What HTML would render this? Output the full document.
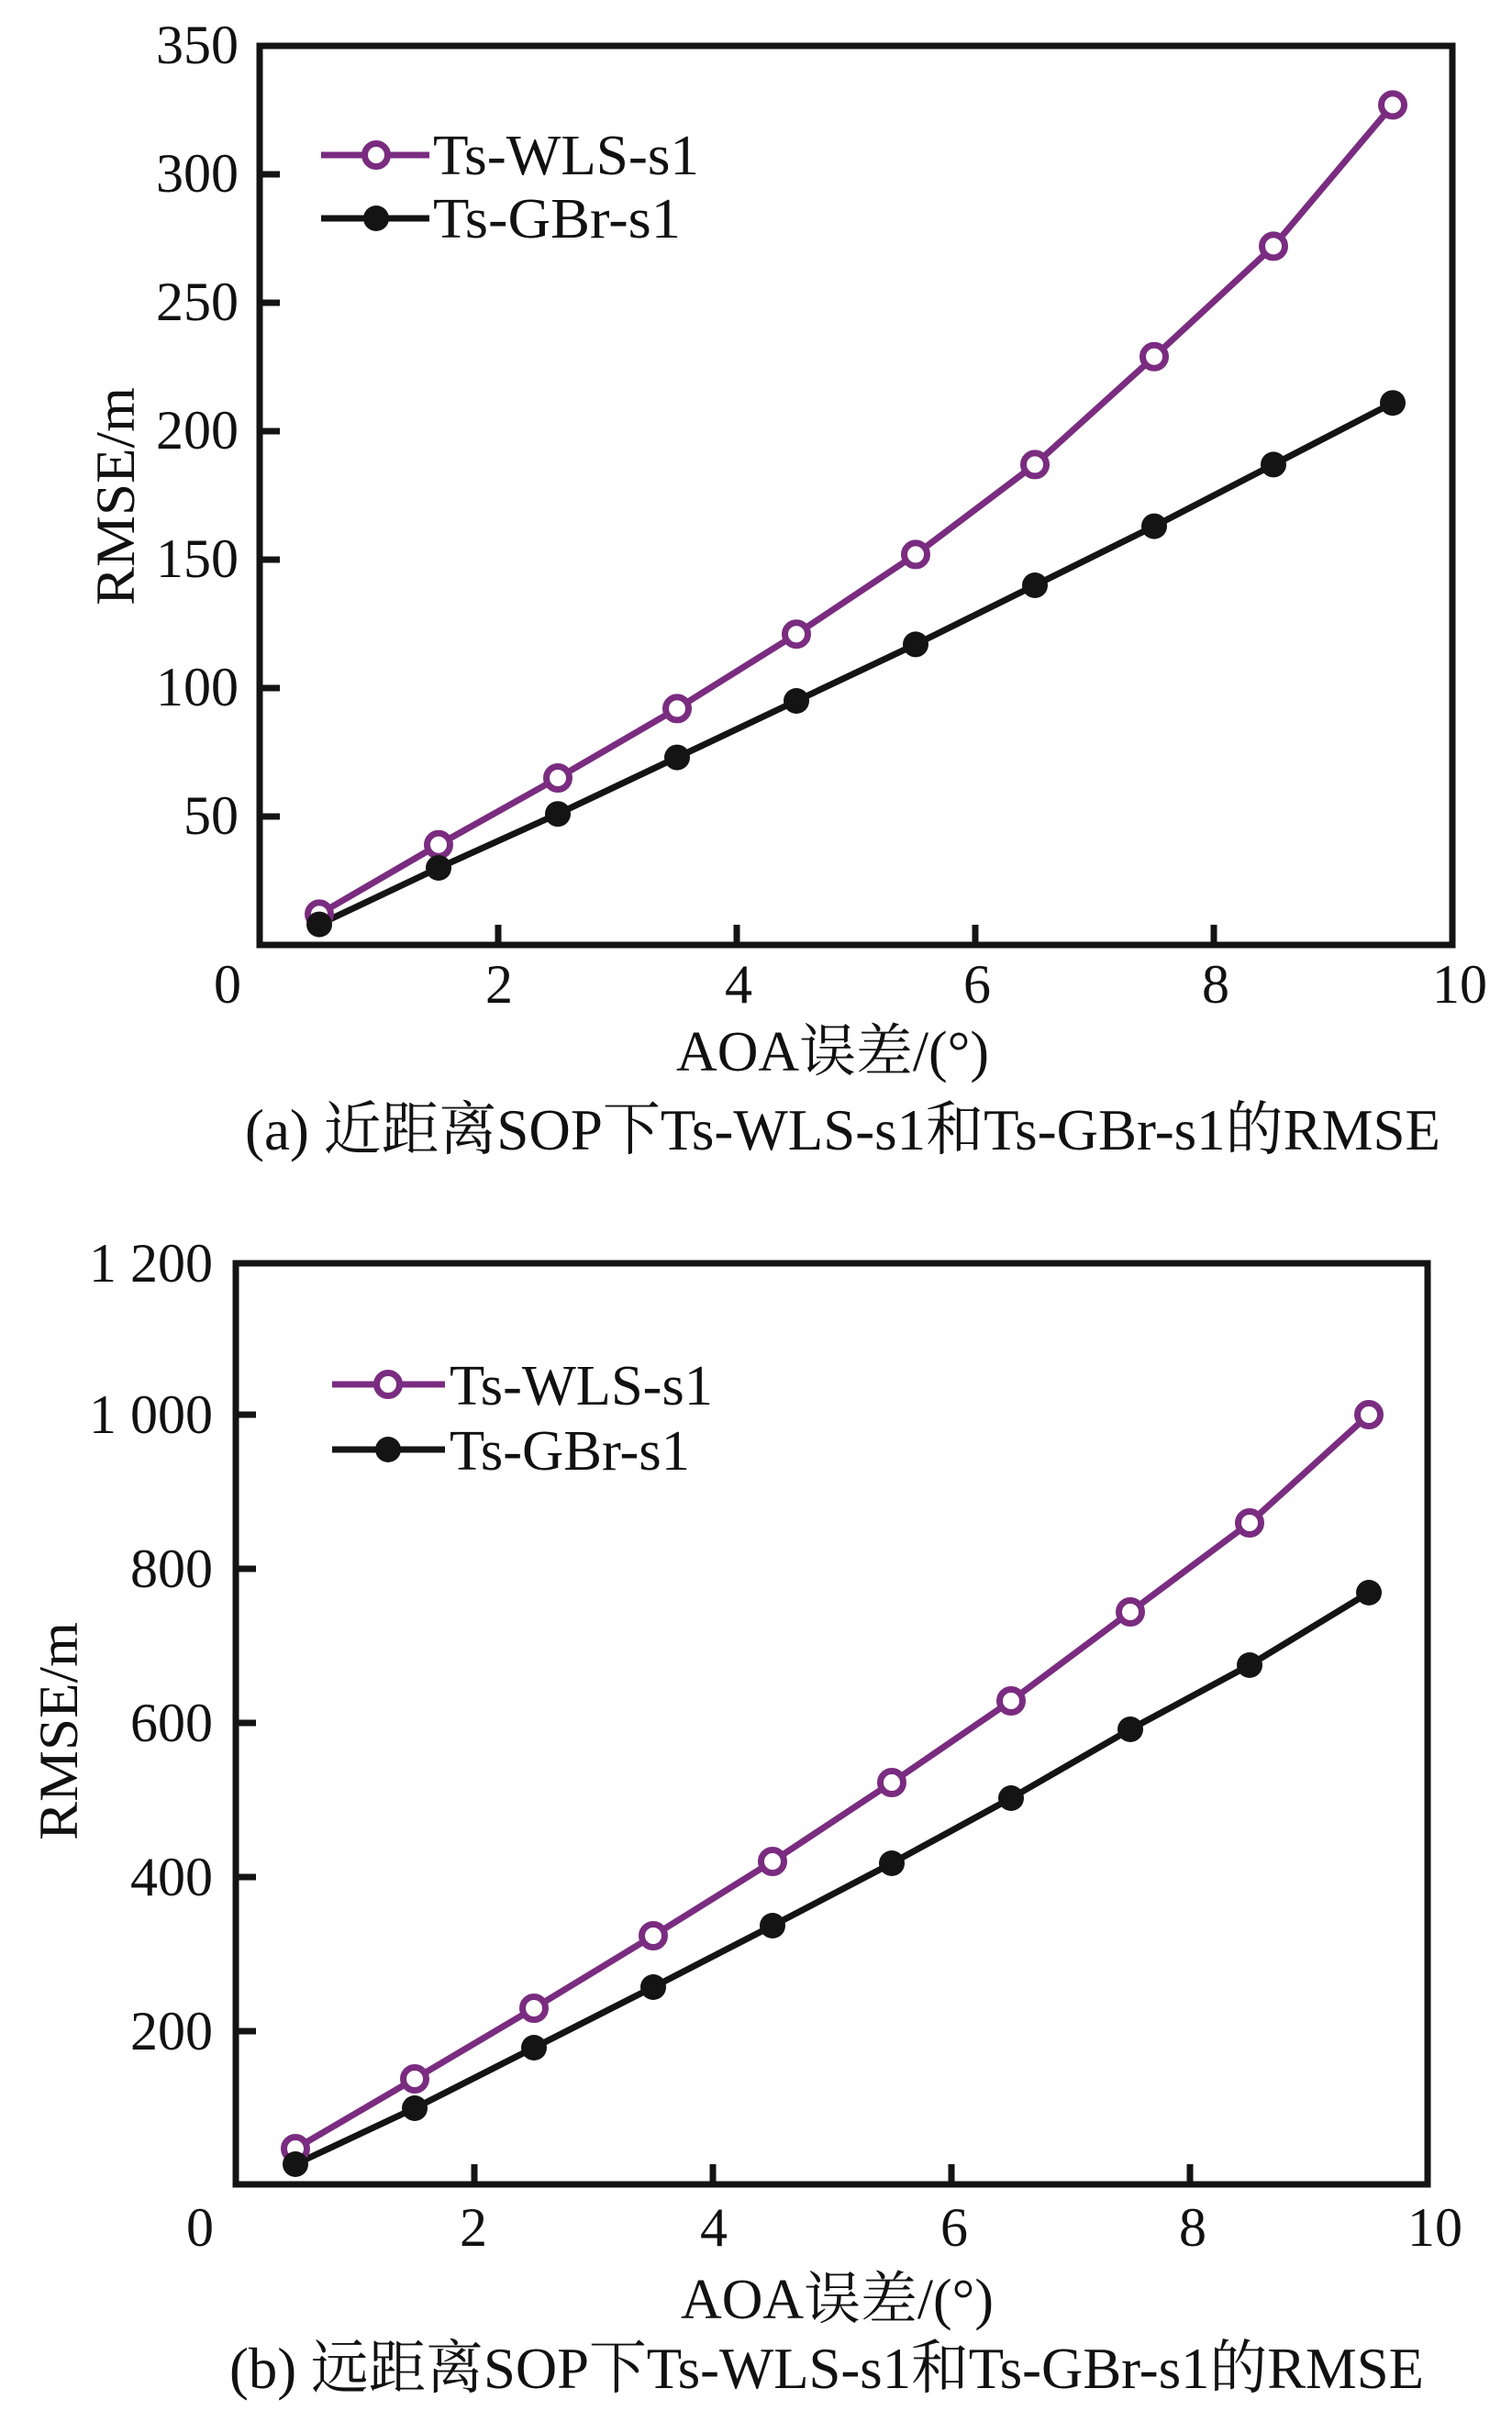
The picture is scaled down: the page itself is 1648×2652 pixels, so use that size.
<!DOCTYPE html>
<html><head><meta charset="utf-8"><style>
html,body{margin:0;padding:0;background:#fff}
svg{display:block}
text{font-family:"Liberation Serif","Noto Serif CJK SC",serif;fill:#111}
</style></head><body>
<svg width="1648" height="2652" viewBox="0 0 1648 2652" xmlns="http://www.w3.org/2000/svg">
<!-- Chart A -->
<g stroke="#141414" stroke-width="7" fill="none">
<rect x="283" y="50" width="1300" height="980"/>
<path d="M283 890h22M283 750h22M283 610h22M283 470h22M283 330h22M283 190h22M543 1030v-22M803 1030v-22M1063 1030v-22M1323 1030v-22"/>
</g>
<g font-size="60" text-anchor="end">
<text x="260" y="909">50</text><text x="260" y="769">100</text><text x="260" y="629">150</text><text x="260" y="489">200</text><text x="260" y="349">250</text><text x="260" y="209">300</text><text x="260" y="69">350</text>
</g>
<g font-size="60" text-anchor="middle">
<text x="248" y="1093">0</text><text x="544" y="1093">2</text><text x="805" y="1093">4</text><text x="1065" y="1093">6</text><text x="1325" y="1093">8</text><text x="1591" y="1093">10</text>
</g>
<text x="737" y="1167" font-size="62" textLength="341" lengthAdjust="spacingAndGlyphs">AOA误差/(°)</text>
<text x="267" y="1253" font-size="64" textLength="1303" lengthAdjust="spacingAndGlyphs">(a) 近距离SOP下Ts-WLS-s1和Ts-GBr-s1的RMSE</text>
<text transform="translate(146,541) rotate(-90)" font-size="60" text-anchor="middle" textLength="238" lengthAdjust="spacingAndGlyphs">RMSE/m</text>
<g fill="none" stroke-width="7" stroke-linejoin="round">
<polyline stroke="#7a2c80" points="348,996.4 478,920.8 608,848 738,772.4 868,691.2 998,604.4 1128,506.4 1258,388.8 1388,268.4 1518,114.4"/>
<polyline stroke="#141414" points="348,1007.6 478,946 608,887.2 738,825.6 868,764 998,702.4 1128,638 1258,573.6 1388,506.4 1518,439.2"/>
<line x1="350" y1="169" x2="468" y2="169" stroke="#7a2c80"/>
<line x1="350" y1="238" x2="468" y2="238" stroke="#141414"/>
</g>
<g fill="#fff" stroke="#7a2c80" stroke-width="7">
<circle cx="348" cy="996.4" r="12.5"/><circle cx="478" cy="920.8" r="12.5"/><circle cx="608" cy="848" r="12.5"/><circle cx="738" cy="772.4" r="12.5"/><circle cx="868" cy="691.2" r="12.5"/><circle cx="998" cy="604.4" r="12.5"/><circle cx="1128" cy="506.4" r="12.5"/><circle cx="1258" cy="388.8" r="12.5"/><circle cx="1388" cy="268.4" r="12.5"/><circle cx="1518" cy="114.4" r="12.5"/><circle cx="410" cy="169" r="12.5"/>
</g>
<g fill="#141414">
<circle cx="348" cy="1007.6" r="14"/><circle cx="478" cy="946" r="14"/><circle cx="608" cy="887.2" r="14"/><circle cx="738" cy="825.6" r="14"/><circle cx="868" cy="764" r="14"/><circle cx="998" cy="702.4" r="14"/><circle cx="1128" cy="638" r="14"/><circle cx="1258" cy="573.6" r="14"/><circle cx="1388" cy="506.4" r="14"/><circle cx="1518" cy="439.2" r="14"/><circle cx="410" cy="238" r="14"/>
</g>
<text x="472" y="190" font-size="62" textLength="290" lengthAdjust="spacingAndGlyphs">Ts-WLS-s1</text>
<text x="472" y="259" font-size="62" textLength="270" lengthAdjust="spacingAndGlyphs">Ts-GBr-s1</text>

<!-- Chart B -->
<g stroke="#141414" stroke-width="7" fill="none">
<rect x="257" y="1377" width="1299" height="1004"/>
<path d="M257 2214h22M257 2046h22M257 1878h22M257 1710h22M257 1542h22M517 2381v-22M777 2381v-22M1037 2381v-22M1297 2381v-22"/>
</g>
<g font-size="60" text-anchor="end">
<text x="232" y="2234">200</text><text x="232" y="2066">400</text><text x="232" y="1898">600</text><text x="232" y="1730">800</text><text x="232" y="1562">1 000</text><text x="232" y="1397">1 200</text>
</g>
<g font-size="60" text-anchor="middle">
<text x="218" y="2448">0</text><text x="516" y="2448">2</text><text x="778" y="2448">4</text><text x="1040" y="2448">6</text><text x="1300" y="2448">8</text><text x="1564" y="2448">10</text>
</g>
<text x="742" y="2527" font-size="62" textLength="341" lengthAdjust="spacingAndGlyphs">AOA误差/(°)</text>
<text x="250" y="2603" font-size="64" textLength="1302" lengthAdjust="spacingAndGlyphs">(b) 远距离SOP下Ts-WLS-s1和Ts-GBr-s1的RMSE</text>
<text transform="translate(84,1887) rotate(-90)" font-size="60" text-anchor="middle" textLength="238" lengthAdjust="spacingAndGlyphs">RMSE/m</text>
<g fill="none" stroke-width="7" stroke-linejoin="round">
<polyline stroke="#7a2c80" points="322,2342 452,2266 582,2189 712,2110 842,2029 972,1943 1102,1854 1232,1757 1362,1660 1492,1542"/>
<polyline stroke="#141414" points="322,2359 452,2298 582,2232 712,2166 842,2099 972,2031 1102,1960 1232,1885 1362,1815 1492,1736"/>
<line x1="362" y1="1509" x2="485" y2="1509" stroke="#7a2c80"/>
<line x1="362" y1="1580" x2="485" y2="1580" stroke="#141414"/>
</g>
<g fill="#fff" stroke="#7a2c80" stroke-width="7">
<circle cx="322" cy="2342" r="12.5"/><circle cx="452" cy="2266" r="12.5"/><circle cx="582" cy="2189" r="12.5"/><circle cx="712" cy="2110" r="12.5"/><circle cx="842" cy="2029" r="12.5"/><circle cx="972" cy="1943" r="12.5"/><circle cx="1102" cy="1854" r="12.5"/><circle cx="1232" cy="1757" r="12.5"/><circle cx="1362" cy="1660" r="12.5"/><circle cx="1492" cy="1542" r="12.5"/><circle cx="423" cy="1509" r="12.5"/>
</g>
<g fill="#141414">
<circle cx="322" cy="2359" r="14"/><circle cx="452" cy="2298" r="14"/><circle cx="582" cy="2232" r="14"/><circle cx="712" cy="2166" r="14"/><circle cx="842" cy="2099" r="14"/><circle cx="972" cy="2031" r="14"/><circle cx="1102" cy="1960" r="14"/><circle cx="1232" cy="1885" r="14"/><circle cx="1362" cy="1815" r="14"/><circle cx="1492" cy="1736" r="14"/><circle cx="423" cy="1580" r="14"/>
</g>
<text x="490" y="1531" font-size="62" textLength="287" lengthAdjust="spacingAndGlyphs">Ts-WLS-s1</text>
<text x="490" y="1602" font-size="62" textLength="262" lengthAdjust="spacingAndGlyphs">Ts-GBr-s1</text>
</svg>
</body></html>
